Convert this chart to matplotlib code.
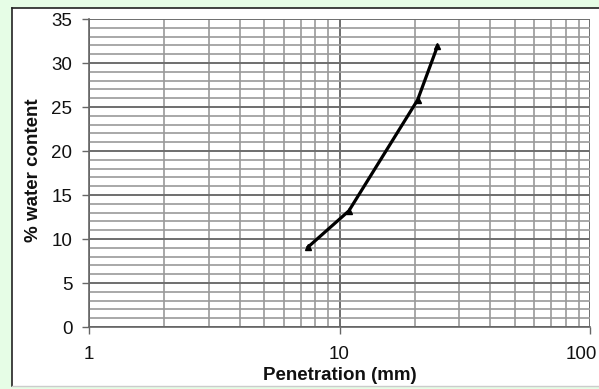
import matplotlib.pyplot as plt
from matplotlib.patches import Rectangle
from matplotlib.lines import Line2D
from matplotlib.ticker import LogLocator, FixedLocator, NullFormatter
from matplotlib.transforms import ScaledTranslation

# Data
penetration = [7.5, 10.9, 20.5, 24.6]
water_content = [9.1, 13.2, 25.8, 31.9]

x_ticks = [1, 10, 100]
x_tick_labels = ['1', '10', '100']
y_ticks = [0, 5, 10, 15, 20, 25, 30, 35]

plt.rcParams['font.family'] = ['Liberation Sans', 'DejaVu Sans']

fig = plt.figure(figsize=(5.99, 3.89), dpi=100)
fig.patch.set_facecolor('#e6fde6')

W, H = 599, 389
# white chart panel with border
fig.patches.append(Rectangle((12 / W, 1 - 386 / H), 1, (386 - 8) / H,
                             transform=fig.transFigure, facecolor='white',
                             edgecolor='none', zorder=-5))
fig.lines.append(Line2D([12 / W, 12 / W], [1 - 386 / H, 1 - 8 / H],
                        transform=fig.transFigure, color='#222222', lw=1.2, zorder=-4))
fig.lines.append(Line2D([12 / W, 1], [1 - 8 / H, 1 - 8 / H],
                        transform=fig.transFigure, color='#222222', lw=1.2, zorder=-4))
fig.lines.append(Line2D([12 / W, 1], [1 - 386 / H, 1 - 386 / H],
                        transform=fig.transFigure, color='#cccccc', lw=1, zorder=-4))

ax = fig.add_axes([89 / W, 1 - 327 / H, (590 - 89) / W, (327 - 19) / H])
ax.set_zorder(2)
ax.set_facecolor('white')
ax.set_xscale('log')
ax.set_xlim(1, 100)
ax.set_ylim(0, 35)

ax.xaxis.set_major_locator(FixedLocator(x_ticks))
ax.set_xticklabels(x_tick_labels)
ax.xaxis.set_minor_locator(LogLocator(base=10, subs=range(2, 10)))
ax.xaxis.set_minor_formatter(NullFormatter())
ax.set_yticks(y_ticks)
ax.set_yticks(range(0, 36), minor=True)

ax.grid(which='major', color='#6e6e6e', lw=1.4)
ax.grid(which='minor', color='#9a9a9a', lw=1.2)
ax.set_axisbelow(True)

ax.tick_params(which='major', direction='out', length=5, width=1, color='#666666',
               labelsize=13.5, labelcolor='#111111')
ax.tick_params(axis='y', which='major', pad=7)
ax.tick_params(axis='x', which='major', pad=8.5)
ax.tick_params(which='minor', length=0)

# last x label sits a bit left, as in the original
lbl = ax.get_xticklabels()[-1]
lbl.set_transform(lbl.get_transform() + ScaledTranslation(-8.5 / 100, 0, fig.dpi_scale_trans))

for side in ['top', 'right']:
    ax.spines[side].set_visible(False)
for side in ['left', 'bottom']:
    ax.spines[side].set_color('#666666')
    ax.spines[side].set_linewidth(1.2)

ax.plot(penetration, water_content, color='black', lw=2.3,
        marker='^', markersize=4, zorder=3, clip_on=False)

fig.text(340 / W, 1 - 380 / H, 'Penetration (mm)', fontsize=13.5, fontweight='bold',
         ha='center', va='baseline', color='#111111')
fig.text(38 / W, 1 - 170.5 / H, '% water content', fontsize=13.5, fontweight='bold',
         ha='center', va='baseline', rotation=90, rotation_mode='anchor', color='#111111')

fig.savefig('out.png', dpi=100, facecolor=fig.get_facecolor())
